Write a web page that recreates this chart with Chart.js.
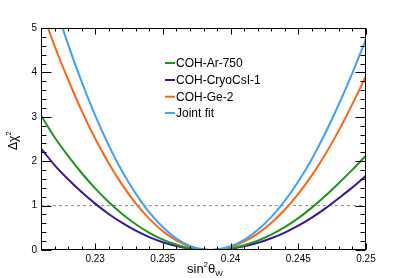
<!DOCTYPE html>
<html><head><meta charset="utf-8">
<script src="https://cdn.jsdelivr.net/npm/chart.js@4/dist/chart.umd.min.js"></script>
<style>html,body{margin:0;padding:0;background:#fff;}canvas{display:block;}</style>
</head><body>
<canvas id="c" width="407" height="278"></canvas>
<script>
// sin^2(theta_W) sample points
const xValues = [0.226,0.227,0.228,0.229,0.230,0.231,0.232,0.233,0.234,0.235,0.236,0.237,0.238,0.2385,0.239,0.240,0.241,0.242,0.243,0.244,0.245,0.246,0.247,0.248,0.249,0.250];
// Delta chi^2 per experiment
const cohAr750   = [3.03,2.54,2.12,1.734,1.387,1.079,0.81,0.579,0.387,0.234,0.119,0.042,0.0044,0,0.0046,0.039,0.107,0.209,0.345,0.514,0.717,0.954,1.22,1.51,1.81,2.13];
const cohCryoCsI1= [2.29,1.913,1.594,1.305,1.044,0.812,0.61,0.436,0.291,0.176,0.089,0.032,0.0033,0,0.0035,0.03,0.082,0.16,0.264,0.393,0.549,0.73,0.937,1.17,1.41,1.67];
const cohGe2     = [5.44,4.60,3.84,3.14,2.51,1.955,1.467,1.049,0.701,0.423,0.215,0.0765,0.008,0,0.008,0.0687,0.189,0.368,0.607,0.906,1.264,1.681,2.158,2.694,3.29,3.92];
const jointFit   = [6.57,5.56,4.63,3.79,3.03,2.36,1.77,1.27,0.846,0.511,0.259,0.092,0.0097,0,0.0098,0.084,0.230,0.450,0.741,1.106,1.542,2.052,2.634,3.288,3.99,4.75];
const refLevel = 1;
const xRange = [0.226, 0.25];
const yRange = [0, 5];
const xTickValues = [0.23,0.235,0.24,0.245,0.25];
const xTickLabels = ["0.23","0.235","0.24","0.245","0.25"];
const yTickValues = [0,1,2,3,4,5];
const yTickLabels = ["0","1","2","3","4","5"];
const seriesNames = ["COH-Ar-750","COH-CryoCsI-1","COH-Ge-2","Joint fit"];
const seriesColors = ["#1a961a","#3d13a3","#ff6414","#40a0ff"];

const pts = arr => xValues.map((x,i)=>({x:x,y:arr[i]}));
const FONT = "'Liberation Sans', Arial, Helvetica, sans-serif";

function lineDs(label, arr, color){
  return {label, data: pts(arr), borderColor: color, borderWidth: 2, pointRadius: 0,
          cubicInterpolationMode: 'monotone', fill: false};
}

const decor = {
  id: 'decor',
  afterDraw(chart){
    const ctx = chart.ctx, xs = chart.scales.x, ys = chart.scales.y, a = chart.chartArea;
    const L = Math.round(a.left)+0.5, R = Math.round(a.right)-0.5, T = Math.round(a.top)+0.5, B = Math.round(a.bottom)-0.5;
    ctx.save();
    ctx.strokeStyle = '#000'; ctx.lineWidth = 1;
    ctx.strokeRect(L, T, R-L, B-T);
    ctx.beginPath();
    // y ticks
    for (let v = yRange[0]; v <= yRange[1]+1e-9; v += 0.2){
      const p = Math.round(ys.getPixelForValue(v))+0.5;
      const major = Math.abs(v - Math.round(v)) < 1e-6;
      const len = major ? 10 : 5;
      ctx.moveTo(L, p); ctx.lineTo(L+len, p);
      ctx.moveTo(R, p); ctx.lineTo(R-len, p);
    }
    // x ticks
    for (let k = 0; k <= 24; k++){
      const v = xRange[0] + k*0.001;
      const p = Math.round(xs.getPixelForValue(v))+0.5;
      const major = xTickValues.some(t => Math.abs(t-v) < 1e-7);
      const len = major ? 6 : 3;
      ctx.moveTo(p, B); ctx.lineTo(p, B-len);
      ctx.moveTo(p, T); ctx.lineTo(p, T+len);
    }
    ctx.stroke();

    // axis titles
    ctx.fillStyle = '#000';
    ctx.textBaseline = 'alphabetic';
    // x title: sin^2 theta_W
    let x0 = 187, yb = 272.5;
    ctx.font = '13px ' + FONT; ctx.textAlign = 'left';
    ctx.fillText('sin', x0, yb); x0 += ctx.measureText('sin').width;
    ctx.font = '8px ' + FONT; ctx.fillText('2', x0, yb-6); x0 += ctx.measureText('2').width;
    ctx.font = '13px ' + FONT; ctx.fillText('θ', x0, yb); x0 += ctx.measureText('θ').width;
    ctx.font = '8px ' + FONT; ctx.fillText('W', x0, yb+3);
    // y title: Delta chi^2 (rotated)
    ctx.save();
    ctx.translate(17, 150);
    ctx.rotate(-Math.PI/2);
    let t0 = 0;
    ctx.font = '12px ' + FONT; ctx.fillText('Δχ', t0, 0); t0 += ctx.measureText('Δχ').width;
    ctx.font = '8px ' + FONT; ctx.fillText('2', t0, -6);
    ctx.restore();

    // legend
    const rows = [63, 80, 96.7, 113];
    ctx.font = '12px ' + FONT; ctx.textBaseline = 'middle'; ctx.textAlign = 'left';
    seriesNames.forEach((n,i)=>{
      ctx.strokeStyle = seriesColors[i]; ctx.lineWidth = 2;
      ctx.beginPath(); ctx.moveTo(165, rows[i]); ctx.lineTo(175, rows[i]); ctx.stroke();
      ctx.fillStyle = '#000';
      ctx.fillText(n, 176, rows[i]+0.5);
    });
    ctx.restore();
  }
};

new Chart(document.getElementById('c'), {
  type: 'line',
  data: {
    datasets: [
      lineDs(seriesNames[3], jointFit, seriesColors[3]),
      lineDs(seriesNames[2], cohGe2, seriesColors[2]),
      lineDs(seriesNames[0], cohAr750, seriesColors[0]),
      lineDs(seriesNames[1], cohCryoCsI1, seriesColors[1]),
      {label:'ref', data:[{x:xRange[0],y:refLevel},{x:xRange[1],y:refLevel}], borderColor:'#8a8a8a',
       borderWidth:1, borderDash:[3,3], pointRadius:0, fill:false}
    ]
  },
  options: {
    responsive: false, animation: false, devicePixelRatio: 1,
    layout: {padding: {left: 0, top: 28, right: 41, bottom: 0}},
    plugins: {legend: {display: false}, tooltip: {enabled: false}},
    scales: {
      x: {type: 'linear', min: xRange[0], max: xRange[1],
          grid: {display: false, drawTicks: false}, border: {display: false},
          afterBuildTicks: s => { s.ticks = xTickValues.map(v=>({value:v})); },
          afterFit: s => { s.height = 28; },
          ticks: {padding: 3, color:'#000', font:{family: FONT, size: 10},
                  maxRotation: 0, autoSkip: false,
                  callback: v => { const i = xTickValues.findIndex(t=>Math.abs(t-v)<1e-7); return i>=0 ? xTickLabels[i] : ''; }}},
      y: {type: 'linear', min: yRange[0], max: yRange[1],
          grid: {display: false, drawTicks: false}, border: {display: false},
          afterBuildTicks: s => { s.ticks = yTickValues.map(v=>({value:v})); },
          afterFit: s => { s.width = 41; },
          ticks: {padding: 4, color:'#000', font:{family: FONT, size: 10},
                  callback: v => { const i = yTickValues.indexOf(v); return i>=0 ? yTickLabels[i] : ''; }}}
    }
  },
  plugins: [decor]
});
</script>
</body></html>
